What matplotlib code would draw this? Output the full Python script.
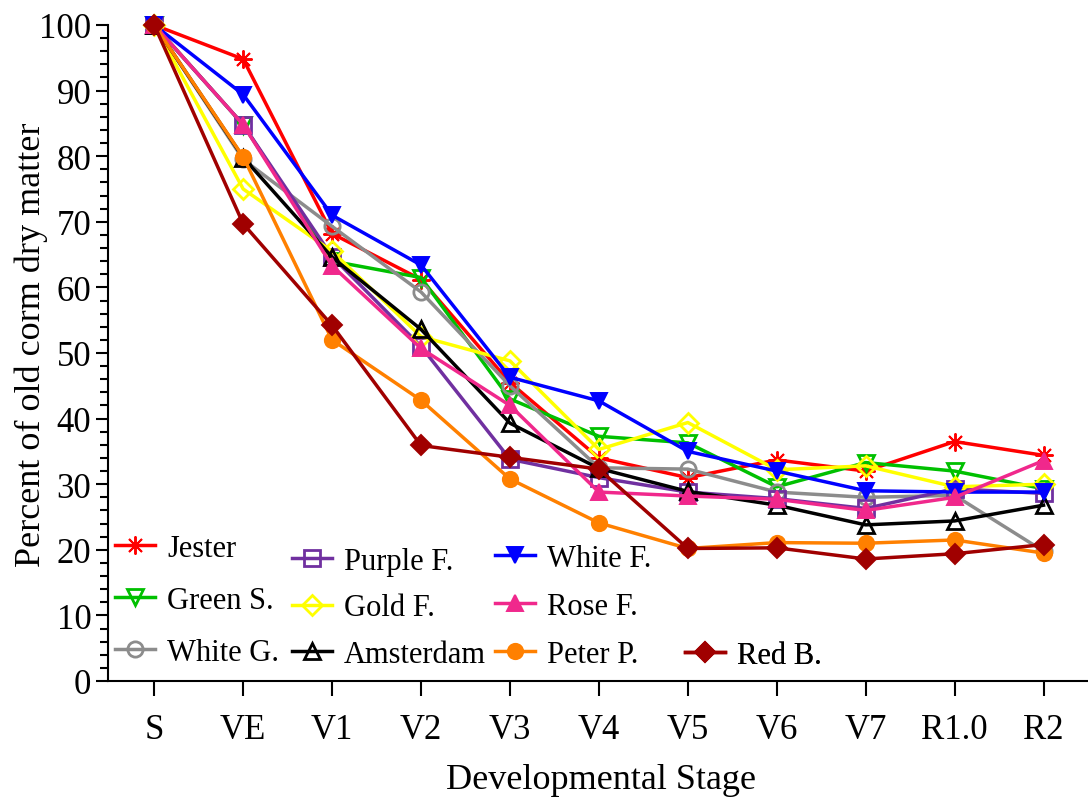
import matplotlib
matplotlib.use("Agg")
import matplotlib.pyplot as plt
from matplotlib.ticker import MultipleLocator

plt.rcParams['font.family'] = ['Liberation Serif', 'DejaVu Serif']

stages = ['S', 'VE', 'V1', 'V2', 'V3', 'V4', 'V5', 'V6', 'V7', 'R1.0', 'R2']

jester    = [100, 94.8, 68.2, 61.2, 45.5, 34.0, 31.0, 33.7, 32.0, 36.5, 34.4]
green_s   = [100, 84.8, 64.0, 61.5, 43.0, 37.3, 36.3, 29.6, 33.3, 32.0, 29.3]
white_g   = [100, 79.5, 69.3, 59.3, 45.0, 32.5, 32.3, 28.8, 28.0, 28.3, 19.8]
purple_f  = [100, 84.8, 64.7, 51.0, 33.8, 31.0, 28.8, 27.8, 26.3, 29.3, 28.6]
white_f   = [100, 89.4, 71.0, 63.4, 46.3, 42.7, 35.0, 32.0, 29.0, 28.8, 28.8]
gold_f    = [100, 75.0, 65.5, 52.5, 48.8, 35.3, 39.4, 32.2, 32.8, 29.6, 30.0]
amsterdam = [100, 79.8, 64.6, 53.6, 39.3, 32.4, 28.9, 26.8, 23.8, 24.4, 26.8]
rose_f    = [100, 84.8, 63.3, 50.7, 42.0, 28.8, 28.2, 27.7, 26.0, 28.0, 33.6]
peter_p   = [100, 79.9, 52.0, 42.8, 30.8, 24.1, 20.2, 21.1, 21.0, 21.5, 19.5]
red_b     = [100, 69.7, 54.2, 35.9, 34.1, 32.3, 20.2, 20.3, 18.6, 19.4, 20.8]

# name, values, colour, marker, filled
series = [
    ('Jester',    jester,    '#FF0000', (8, 2, 0), True),
    ('Green S.',  green_s,   '#00C000', 'v', False),
    ('White G.',  white_g,   '#8C8C8C', 'o', False),
    ('Purple F.', purple_f,  '#7030A0', 's', False),
    ('Gold F.',   gold_f,    '#FFFF00', 'D', False),
    ('Amsterdam', amsterdam, '#000000', '^', False),
    ('White F.',  white_f,   '#0000FF', 'v', True),
    ('Rose F.',   rose_f,    '#F0288C', '^', True),
    ('Peter P.',  peter_p,   '#FF8000', 'o', True),
    ('Red B.',    red_b,     '#A00000', 'D', True),
]

W, H = 1088, 803
fig = plt.figure(figsize=(W / 100, H / 100), dpi=100)
ax_left, ax_bottom, ax_top = 108, 682, 26
ax = fig.add_axes([ax_left / W, (H - ax_bottom) / H,
                   (W - ax_left) / W, (ax_bottom - ax_top) / H])

x = list(range(len(stages)))
handles = {}
for name, vals, col, mk, filled in series:
    if mk == (8, 2, 0):
        ms = 13
    elif mk == 'D':
        ms = 10
    else:
        ms = 11
    ln, = ax.plot(x, vals, color=col, lw=2.5, marker=mk, markersize=ms,
                  markerfacecolor=col if filled else 'none',
                  markeredgecolor=col,
                  markeredgewidth=2.0 if not filled else 1.4,
                  label=name, clip_on=False, zorder=3)
    handles[name] = ln

ax.set_xlim(-0.52, 10.5)
ax.set_ylim(0, 100)
ax.set_xticks(x)
ax.set_xticklabels(stages)
ax.yaxis.set_major_locator(MultipleLocator(10))
ax.yaxis.set_minor_locator(MultipleLocator(2))

for s in ('top', 'right'):
    ax.spines[s].set_visible(False)
for s in ('left', 'bottom'):
    ax.spines[s].set_linewidth(1.5)

ax.tick_params(axis='both', which='major', labelsize=25, direction='out',
               width=1.5)
ax.tick_params(axis='x', which='major', length=11, pad=12)
ax.tick_params(axis='y', which='major', length=9, pad=3)
ax.tick_params(axis='y', which='minor', direction='out', length=6, width=1.5)

ax.set_xlabel('Developmental Stage', fontsize=26, va='top')
ax.xaxis.set_label_coords((601 - ax_left) / (W - ax_left),
                          (ax_bottom - 764) / (ax_bottom - ax_top))
ax.set_ylabel('Percent of old corm dry matter', fontsize=26)
ax.yaxis.set_label_coords((48 - ax_left) / (W - ax_left),
                          (ax_bottom - 345) / (ax_bottom - ax_top))


def legend_column(names, x_px, y_top_px, spacing):
    leg = ax.legend([handles[n] for n in names], names, loc='upper left',
                    bbox_to_anchor=(x_px / W, 1 - y_top_px / H),
                    bbox_transform=fig.transFigure, frameon=False,
                    fontsize=22, handlelength=1.3, handletextpad=0.4,
                    labelspacing=spacing, borderpad=0, borderaxespad=0)
    ax.add_artist(leg)
    return leg


legend_column(['Jester', 'Green S.', 'White G.'], 115, 535, 0.75)
legend_column(['Purple F.', 'Gold F.', 'Amsterdam'], 292, 548, 0.57)
legend_column(['White F.', 'Rose F.', 'Peter P.'], 495, 545, 0.62)
legend_column(['Red B.'], 685, 642, 0.5)

fig.savefig('out.png', dpi=100)
